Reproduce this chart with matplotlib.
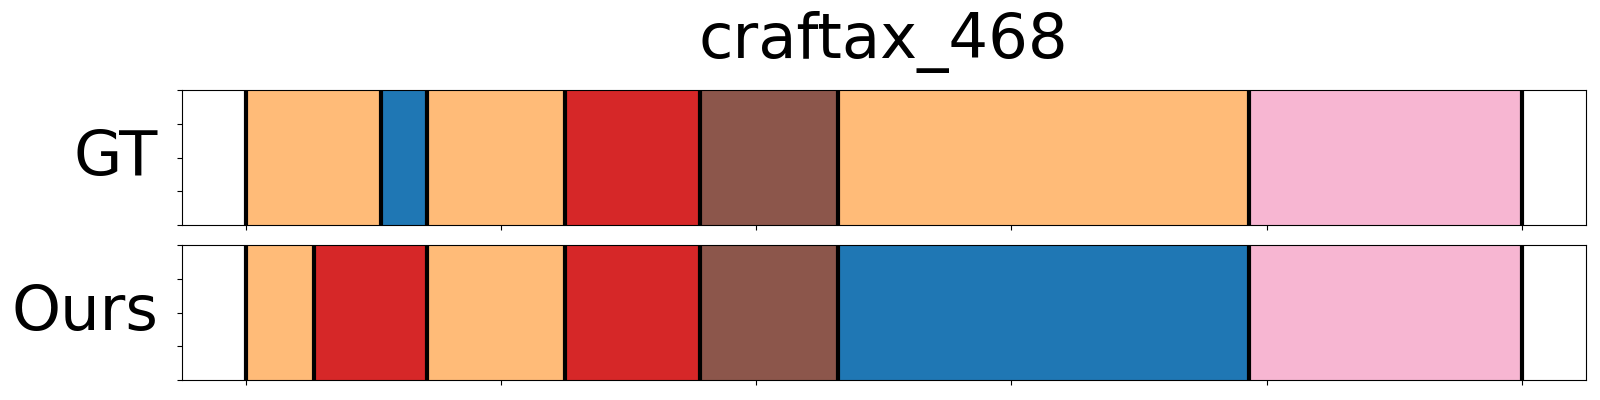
"""
plot.py - Segment timeline of ground truth vs predicted actions
"""

import matplotlib
matplotlib.use('Agg')
import matplotlib.pyplot as plt
import numpy as np

title = "craftax_468"
total_len = 500

# segment start positions and class ids (class ids index into tab20)
gt_starts = [0, 53, 71, 125, 178, 232, 393]
gt_classes = [3, 0, 3, 6, 10, 3, 13]

ours_starts = [0, 27, 71, 125, 178, 232, 393]
ours_classes = [3, 6, 3, 6, 10, 0, 13]

row_names = ["GT", "Ours"]


def draw_segments(ax, starts, classes, name):
    cmap = plt.get_cmap('tab20')
    ends = starts[1:] + [total_len]
    for s, e, c in zip(starts, ends, classes):
        ax.axvspan(s, e, color=cmap(c))
    for b in starts + [total_len]:
        ax.axvline(b, color='black', linewidth=3)
    # invisible line so the x autoscale covers the whole sequence
    ax.plot([0, total_len], [0.5, 0.5], alpha=0)
    ax.set_ylim(0, 1)
    ax.set_yticks([0, 0.25, 0.5, 0.75, 1.0])
    ax.set_yticklabels([])
    ax.set_xticklabels([])
    ax.set_ylabel(name, rotation=0, fontsize=45, ha='right', va='center', labelpad=10)


fig, (ax1, ax2) = plt.subplots(2, 1, figsize=(16, 4), dpi=100, sharex=True)
draw_segments(ax1, gt_starts, gt_classes, row_names[0])
draw_segments(ax2, ours_starts, ours_classes, row_names[1])
ax2.tick_params(axis='x', labelbottom=False)
ax1.set_title(title, fontsize=45, pad=23)

fig.subplots_adjust(left=0.1136, right=0.991, top=0.774, bottom=0.05, hspace=0.15)
fig.savefig('out.png', dpi=100)
